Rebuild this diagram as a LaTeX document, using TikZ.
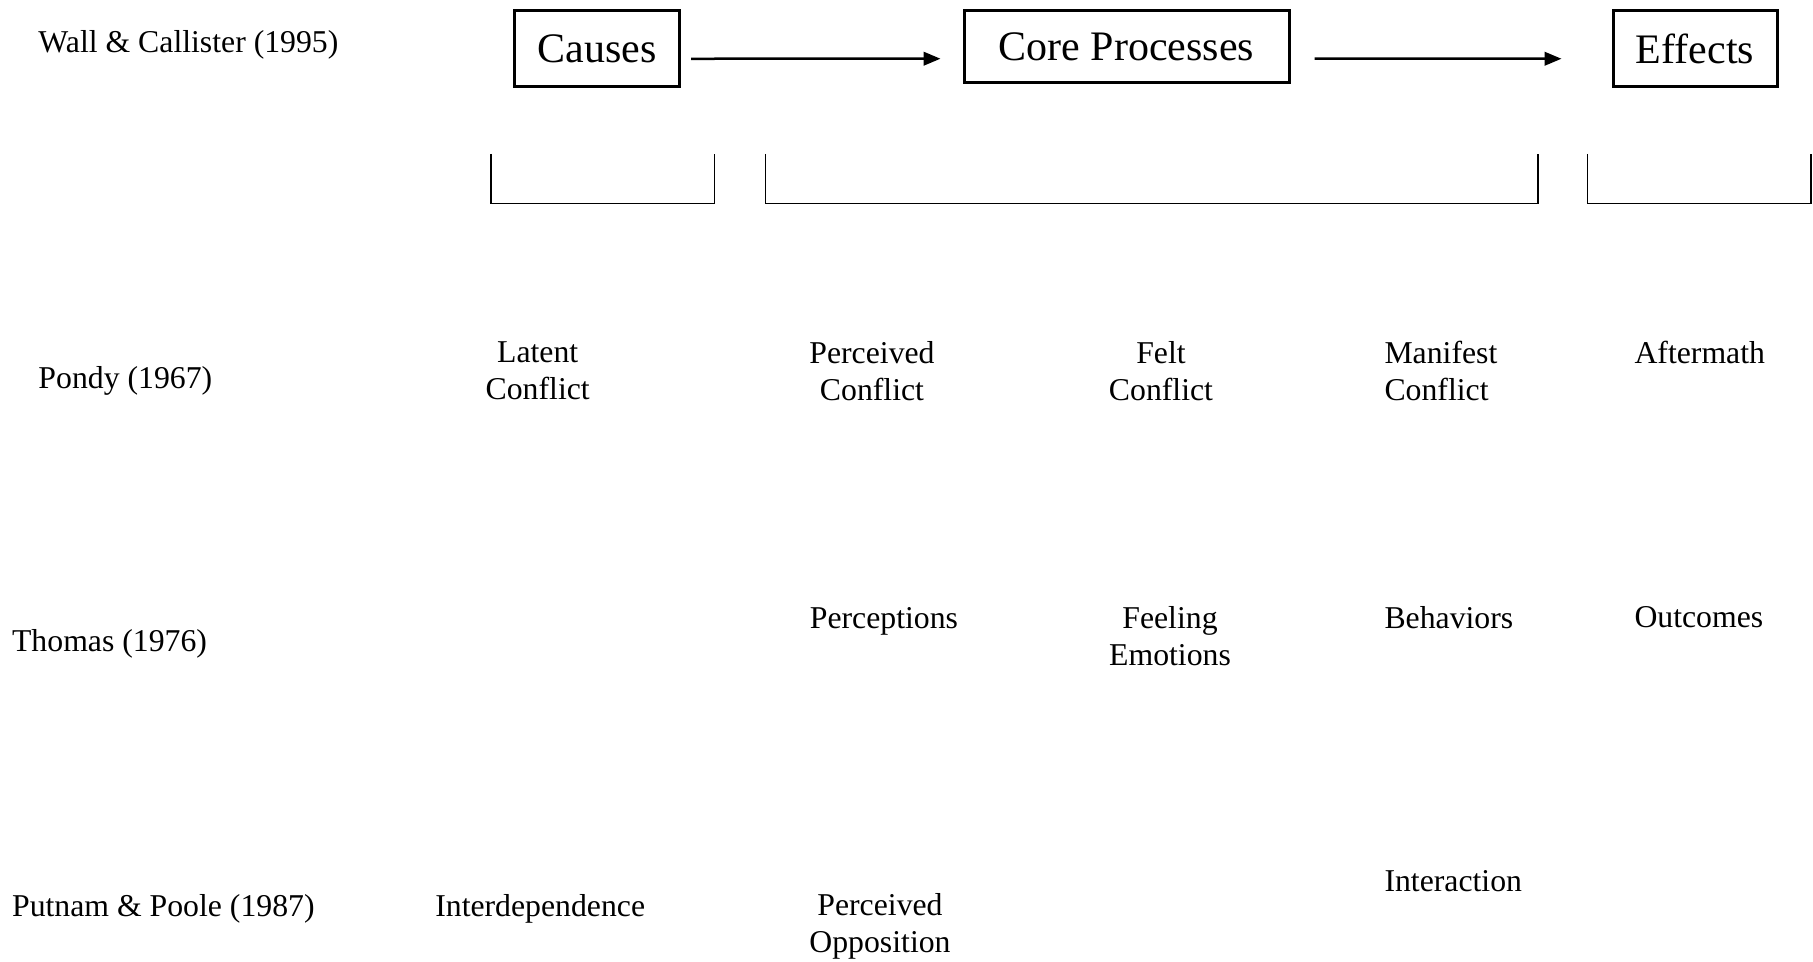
\documentclass[tikz,border=0pt]{standalone}
\usepackage{fontspec}
\setmainfont{Liberation Serif}
\usetikzlibrary{arrows.meta}

\begin{document}
\begin{tikzpicture}[x=0.4pt,y=-0.4pt,
  bx/.style={draw,line width=1.2pt,inner xsep=0pt,minimum height=30.4pt,
    font=\fontsize{16.8}{20}\selectfont},
  txt/.style={font=\fontsize{12.7}{14.8}\selectfont,inner sep=0pt,align=center},
  ltxt/.style={txt,anchor=west,align=left},
  arr/.style={line width=1pt,-{Triangle[length=6.8pt,width=5.4pt]}},
  brk/.style={line width=0.6pt}]

  \useasboundingbox (0,0) rectangle (1813,961);

  % the three stages on top
  \node[bx,minimum width=66pt] (causes) at (597,48.5) {Causes};
  \node[bx,minimum width=130pt,minimum height=29pt] (core) at (1126.5,46.7) {Core Processes};
  \node[bx,minimum width=65.6pt] (effects) at (1695,48.5) {Effects};

  \draw[arr,shorten <=4pt,shorten >=8.8pt] ([yshift=-4.1pt]causes.east) -- ([yshift=-4.8pt]core.west);
  \draw[arr,shorten <=9.6pt,shorten >=20pt] ([yshift=-4.8pt]core.east) -- ([yshift=-4.1pt]effects.west);

  % brackets under the stages
  \draw[brk] (491,153.8) |- (714.6,203.5) -- (714.6,153.8);
  \draw[brk] (765.5,153.8) |- (1538,203.5) -- (1538,153.8);
  \draw[brk] (1587.6,153.8) |- (1811,203.5) -- (1811,153.8);

  % row labels
  \node[ltxt] (wall) at (38,45) {Wall \& Callister (1995)};
  \node[ltxt] (pondy) at (38,380.5) {Pondy (1967)};
  \node[ltxt] (thomas) at (11.6,644) {Thomas (1976)};
  \node[ltxt] (putnam) at (11.6,908.5) {Putnam \& Poole (1987)};

  % Pondy
  \node[txt] (latent) at (537.7,371.2) {Latent\\Conflict};
  \node[txt] (perceived) at (872,371.2) {Perceived\\Conflict};
  \node[txt] (felt) at (1161,371.2) {Felt\\Conflict};
  \node[ltxt] (manifest) at (1384,371.2) {Manifest\\Conflict};
  \node[ltxt] (aftermath) at (1634,352.7) {Aftermath};

  % Thomas
  \node[ltxt] (perceptions) at (809.4,621) {Perceptions};
  \node[txt] (feeling) at (1170,636) {Feeling\\Emotions};
  \node[ltxt] (behaviors) at (1384,617.5) {Behaviors};
  \node[ltxt] (outcomes) at (1634,617.5) {Outcomes};

  % Putnam & Poole
  \node[ltxt] (interdep) at (434.8,909) {Interdependence};
  \node[txt] (opposition) at (880,926) {Perceived\\Opposition};
  \node[ltxt] (interaction) at (1384,881) {Interaction};

\end{tikzpicture}
\end{document}
